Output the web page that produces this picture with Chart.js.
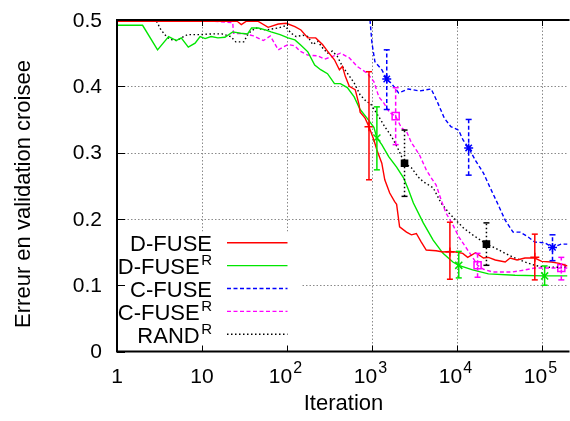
<!DOCTYPE html>
<html><head><meta charset="utf-8">
<script src="https://cdn.jsdelivr.net/npm/chart.js@4/dist/chart.umd.min.js"></script>
<style>html,body{margin:0;padding:0;background:#fff;overflow:hidden}canvas{display:block}</style>
</head><body>
<canvas id="c" width="574" height="421"></canvas>
<script>
const FONT = "'Liberation Sans', Arial, Helvetica, sans-serif";

// ---- data: [iteration, cross-validation error] ----
const dfusePts = [[1,0.498],[20,0.498],[26,0.498],[29,0.493],[33,0.498],[46,0.498],[60,0.489],[79,0.494],[98,0.495],[124,0.49],[146,0.485],[176,0.473],[218,0.473],[262,0.463],[300,0.453],[362,0.44],[414,0.425],[449,0.43],[486,0.415],[541,0.40],[635,0.395],[706,0.372],[726,0.361],[830,0.352],[923,0.339],[1054,0.319],[1143,0.304],[1306,0.284],[1416,0.259],[1618,0.239],[1850,0.226],[1951,0.222],[2115,0.188],[2549,0.18],[2914,0.176],[3331,0.178],[3808,0.165],[4354,0.153],[5691,0.152],[6859,0.15],[8266,0.151],[9712,0.15],[11700,0.148],[13390,0.142],[16560,0.149],[20530,0.141],[23460,0.142],[28290,0.138],[36980,0.135],[42270,0.141],[50960,0.138],[63120,0.141],[82440,0.141],[99310,0.136],[129600,0.135],[160300,0.133],[200000,0.129]];
const dfuseRPts = [[1,0.492],[2,0.492],[3,0.455],[4.05,0.475],[5,0.469],[5.7,0.473],[6.9,0.459],[8.3,0.465],[9.5,0.475],[10.9,0.472],[12.8,0.475],[15.4,0.473],[18.6,0.474],[23,0.482],[28.5,0.48],[34.4,0.479],[38.3,0.488],[46,0.488],[55.7,0.485],[65,0.482],[83,0.478],[103,0.473],[124,0.47],[146,0.462],[176,0.452],[212,0.432],[249,0.425],[300,0.419],[362,0.404],[425,0.404],[513,0.398],[618,0.384],[726,0.365],[875,0.352],[1054,0.338],[1143,0.322],[1306,0.312],[1574,0.294],[1951,0.278],[2353,0.262],[2689,0.244],[3073,0.224],[4017,0.194],[5250,0.168],[6859,0.148],[8960,0.135],[10510,0.13],[15300,0.123],[23460,0.117],[48290,0.115],[107600,0.114],[200000,0.114]];
const cfusePts = [[935,0.51],[1000,0.465],[1084,0.437],[1306,0.425],[1493,0.411],[1706,0.404],[2058,0.39],[2670,0.396],[3640,0.393],[4978,0.396],[5950,0.375],[7100,0.352],[8490,0.339],[10440,0.334],[11800,0.319],[13740,0.307],[16560,0.288],[20530,0.269],[24600,0.247],[30660,0.221],[36980,0.198],[45790,0.18],[55220,0.18],[68390,0.173],[82440,0.165],[107600,0.164],[133200,0.157],[169100,0.162],[200000,0.162]];
const cfuseRPts = [[1,0.5],[11,0.499],[23,0.496],[23.5,0.48],[32.6,0.479],[40.4,0.476],[52.8,0.469],[63.7,0.476],[78.9,0.455],[103,0.463],[124,0.461],[142,0.453],[176,0.447],[230,0.446],[277,0.441],[343,0.445],[425,0.45],[541,0.443],[670,0.43],[875,0.42],[1054,0.407],[1206,0.384],[1377,0.375],[1618,0.36],[1901,0.355],[2230,0.337],[2549,0.332],[2914,0.315],[3611,0.297],[4354,0.274],[4978,0.262],[5691,0.251],[6504,0.229],[7432,0.209],[8960,0.191],[10510,0.173],[13390,0.153],[15300,0.142],[17490,0.13],[20530,0.124],[26120,0.12],[34130,0.12],[44600,0.12],[63120,0.123],[82440,0.126],[116500,0.126],[200000,0.126]];
const randRPts = [[1,0.5],[2.8,0.5],[3.0,0.496],[3.18,0.488],[3.64,0.478],[4.16,0.471],[5,0.469],[5.73,0.473],[6.73,0.478],[9.3,0.478],[12.8,0.479],[17.2,0.479],[21.8,0.475],[25,0.467],[31,0.467],[35.3,0.48],[42.7,0.488],[55.7,0.485],[78.9,0.488],[95,0.491],[112,0.48],[128,0.475],[154,0.477],[176,0.475],[201,0.463],[230,0.468],[262,0.458],[300,0.45],[343,0.453],[392,0.445],[449,0.43],[513,0.42],[618,0.405],[726,0.387],[875,0.376],[948,0.375],[1206,0.354],[1416,0.339],[1706,0.324],[2058,0.304],[2418,0.284],[2914,0.277],[3514,0.263],[4017,0.256],[5250,0.247],[6504,0.224],[8057,0.209],[9712,0.198],[12020,0.186],[15300,0.176],[18940,0.168],[22240,0.162],[28290,0.156],[36980,0.148],[48290,0.141],[63120,0.135],[82440,0.13],[107600,0.127],[200000,0.127]];

// error bars: [iteration, value, low, high]
const dfuseErr  = [[923,0.339,0.259,0.422],[8266,0.15,0.109,0.195],[82440,0.142,0.108,0.177]];
const dfuseRErr = [[1143,0.322,0.274,0.369],[10510,0.13,0.111,0.151],[107600,0.114,0.10,0.129]];
const cfuseErr  = [[1493,0.411,0.365,0.455],[13740,0.307,0.266,0.350],[133200,0.157,0.137,0.176]];
const cfuseRErr = [[1901,0.355,0.312,0.398],[17490,0.13,0.112,0.148],[169100,0.126,0.108,0.142]];
const randRErr  = [[2418,0.284,0.234,0.334],[22240,0.162,0.13,0.194]];

const seriesNames = ['D-FUSE','D-FUSE','C-FUSE','C-FUSE','RAND'];
const seriesSups  = ['','R','','R','R'];
const xTickExponents = [0,1,2,3,4,5];
const yTickValues = [0,0.1,0.2,0.3,0.4,0.5];
const yTickLabels = ['0','0.1','0.2','0.3','0.4','0.5'];

// ---- styles ----
const styles = [
  {color:'#ff0000', dash:[], point:'cross', r:4.5, fill:'rgba(0,0,0,0)'},
  {color:'#00e600', dash:[], point:'crossRot', r:5, fill:'rgba(0,0,0,0)'},
  {color:'#0000ff', dash:[4,2.5], point:'star', r:4.5, fill:'rgba(0,0,0,0)'},
  {color:'#ff00ff', dash:[4,2.5], point:'rect', r:5, fill:'rgba(0,0,0,0)'},
  {color:'#000000', dash:[1.5,2.5], point:'rect', r:4.3, fill:'#000000'}
];
const lines = [dfusePts, dfuseRPts, cfusePts, cfuseRPts, randRPts];
const errs = [dfuseErr, dfuseRErr, cfuseErr, cfuseRErr, randRErr];

const datasets = [];
lines.forEach((pts, i) => {
  const s = styles[i];
  datasets.push({
    data: pts.map(p => ({x:p[0], y:p[1]})),
    borderColor: s.color, borderWidth: 1.4, borderDash: s.dash,
    pointRadius: 0, tension: 0, fill: false
  });
});
errs.forEach((e, i) => {
  const s = styles[i];
  datasets.push({
    data: e.map(p => ({x:p[0], y:p[1]})),
    showLine: false, borderColor: s.color, backgroundColor: s.fill,
    pointStyle: s.point, pointRadius: s.r, pointBorderWidth: 1.5
  });
});

function seg(ctx, x1, y1, x2, y2){ ctx.beginPath(); ctx.moveTo(x1,y1); ctx.lineTo(x2,y2); ctx.stroke(); }

const decor = {
  id: 'decor',
  beforeDatasetsDraw(chart) {
    const {ctx, chartArea: a, scales: {x, y}} = chart;
    ctx.save();
    ctx.strokeStyle = '#8a8a8a'; ctx.lineWidth = 1; ctx.setLineDash([1.5, 2]);
    xTickExponents.forEach(k => {
      if (k === 0) return;
      const px = Math.round(x.getPixelForValue(Math.pow(10, k))) + 0.5;
      seg(ctx, px, a.top, px, a.bottom);
    });
    yTickValues.forEach(v => {
      if (v === 0 || v === 0.5) return;
      const py = Math.round(y.getPixelForValue(v)) + 0.5;
      seg(ctx, a.left, py, a.right, py);
    });
    ctx.setLineDash([]);
    // opaque key box
    ctx.fillStyle = '#fff';
    ctx.fillRect(a.left + 1, a.bottom - 120, 184, 120);
    ctx.restore();
  },
  afterDatasetsDraw(chart) {
    const {ctx, chartArea: a, scales: {x, y}} = chart;
    ctx.save();
    // error bars
    errs.forEach((e, i) => {
      const s = styles[i];
      ctx.strokeStyle = s.color; ctx.lineWidth = 1.5; ctx.setLineDash(s.dash);
      e.forEach(p => {
        const px = x.getPixelForValue(p[0]);
        const lo = y.getPixelForValue(p[2]), hi = y.getPixelForValue(p[3]);
        seg(ctx, px, lo, px, hi);
        ctx.setLineDash([]);
        seg(ctx, px - 3, lo, px + 3, lo);
        seg(ctx, px - 3, hi, px + 3, hi);
        ctx.setLineDash(s.dash);
      });
    });
    ctx.setLineDash([]);
    // border
    ctx.strokeStyle = '#000'; ctx.lineWidth = 2;
    ctx.beginPath();
    ctx.moveTo(a.right + 2, a.top); ctx.lineTo(a.left, a.top); ctx.lineTo(a.left, a.bottom); ctx.lineTo(a.right + 2, a.bottom);
    ctx.stroke();
    ctx.lineWidth = 1;
    yTickValues.forEach(v => {
      const py = Math.round(y.getPixelForValue(v)) + 0.5;
      seg(ctx, a.left, py, a.left + 8, py);
    });
    xTickExponents.forEach(k => {
      const px = Math.round(x.getPixelForValue(Math.pow(10, k))) + 0.5;
      seg(ctx, px, a.bottom, px, a.bottom - 6);
      seg(ctx, px, a.top, px, a.top + 6);
    });
    // key
    const rowY0 = a.bottom - 108.8, rowH = 22.9, textRight = a.left + 95;
    seriesNames.forEach((name, i) => {
      const s = styles[i];
      const ly = rowY0 + i * rowH;
      ctx.strokeStyle = s.color; ctx.lineWidth = 1.4; ctx.setLineDash(s.dash);
      seg(ctx, a.left + 110, ly, a.left + 170.5, ly);
      ctx.setLineDash([]);
      ctx.fillStyle = '#000';
      ctx.textBaseline = 'alphabetic';
      ctx.textAlign = 'right';
      let right = textRight;
      if (seriesSups[i]) {
        ctx.font = '15px ' + FONT;
        ctx.fillText(seriesSups[i], right, ly - 0.5);
        right -= ctx.measureText(seriesSups[i]).width + 1.5;
      }
      ctx.font = '22px ' + FONT;
      ctx.fillText(name, right, ly + 8.5);
    });
    ctx.restore();
  },
  afterDraw(chart) {
    const {ctx, chartArea: a, scales: {x, y}} = chart;
    ctx.save();
    ctx.fillStyle = '#000';
    // y tick labels
    ctx.font = '21px ' + FONT; ctx.textAlign = 'right'; ctx.textBaseline = 'middle';
    yTickValues.forEach((v, i) => {
      ctx.fillText(yTickLabels[i], a.left - 15, y.getPixelForValue(v) + 1);
    });
    ctx.textBaseline = 'alphabetic';
    const base = a.bottom + 31;
    xTickExponents.forEach(k => {
      const px = x.getPixelForValue(Math.pow(10, k));
      if (k <= 1) {
        ctx.font = '21px ' + FONT; ctx.textAlign = 'center';
        ctx.fillText(k === 0 ? '1' : '10', px, base);
      } else {
        ctx.font = '21px ' + FONT;
        const w1 = ctx.measureText('10').width;
        ctx.font = '16px ' + FONT;
        const w2 = ctx.measureText(String(k)).width;
        const start = px - (w1 + 1 + w2) / 2 - 1.5;
        ctx.textAlign = 'left';
        ctx.font = '21px ' + FONT;
        ctx.fillText('10', start, base);
        ctx.font = '16px ' + FONT;
        ctx.fillText(String(k), start + w1 + 1, base - 9.5);
      }
    });
    ctx.font = '22px ' + FONT; ctx.textAlign = 'center';
    ctx.fillText('Iteration', (a.left + 570) / 2, a.bottom + 58);
    ctx.translate(30, 194);
    ctx.rotate(-Math.PI / 2);
    ctx.fillText('Erreur en validation croisee', 0, 0);
    ctx.restore();
  }
};

new Chart(document.getElementById('c').getContext('2d'), {
  type: 'line',
  data: { datasets },
  plugins: [decor],
  options: {
    responsive: false, animation: false,
    layout: { padding: { top: 20, right: 0, left: 0, bottom: 0 } },
    plugins: { legend: { display: false }, tooltip: { enabled: false } },
    scales: {
      x: {
        type: 'logarithmic', min: 1, max: 200000,
        grid: { display: false, drawTicks: false }, border: { display: false },
        ticks: { display: false },
        afterFit: s => { s.height = 69.5; }
      },
      y: {
        type: 'linear', min: 0, max: 0.5,
        grid: { display: false, drawTicks: false }, border: { display: false },
        afterBuildTicks: s => { s.ticks = yTickValues.map(v => ({ value: v })); },
        ticks: { display: false },
        afterFit: s => { s.width = 117; }
      }
    }
  }
});
</script>
</body></html>
